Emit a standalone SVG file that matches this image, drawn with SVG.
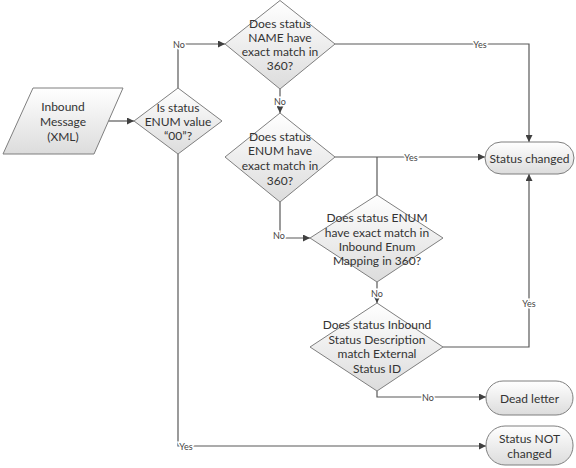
<svg xmlns="http://www.w3.org/2000/svg" width="576" height="468" viewBox="0 0 576 468">
<defs>
<linearGradient id="g" x1="0" y1="0" x2="0" y2="1">
<stop offset="0" stop-color="#ffffff"/>
<stop offset="1" stop-color="#dcdcdc"/>
</linearGradient>
<marker id="a" viewBox="0 0 10 10" refX="10" refY="5" markerWidth="7" markerHeight="7" markerUnits="userSpaceOnUse" orient="auto">
<path d="M0,0 L10,5 L0,10 z" fill="#404040"/>
</marker>
<style>
.s{fill:url(#g);stroke:#7f7f7f;stroke-width:1}
.t{font-family:Lato,"Liberation Sans",sans-serif;font-size:12px;fill:#333;text-anchor:middle;dominant-baseline:central}
.c{fill:none;stroke:#595959;stroke-width:1.2}
.ca{fill:none;stroke:#595959;stroke-width:1.2;marker-end:url(#a)}
.l{font-family:Lato,"Liberation Sans",sans-serif;font-size:9px;fill:#444;text-anchor:middle;dominant-baseline:central;stroke:#fff;stroke-width:3;paint-order:stroke}
</style>
</defs>
<rect width="576" height="468" fill="#fff"/>
<g id="connectors">
<path class="ca" d="M108,121 H134"/>
<path class="ca" d="M178,88 V44 H225"/>
<path class="ca" d="M335,44 H529 V142"/>
<path class="ca" d="M280,89 V113"/>
<path class="ca" d="M335,157 H485"/>
<path class="c" d="M377,195 V157"/>
<path class="ca" d="M280,202 V238 H310"/>
<path class="ca" d="M377,282 V303"/>
<path class="ca" d="M443,347 H529 V174"/>
<path class="ca" d="M377,391 V397 H486"/>
<path class="ca" d="M178,154 V446 H486"/>
<text class="l" x="179" y="44">No</text>
<text class="l" x="480" y="44">Yes</text>
<text class="l" x="280" y="101">No</text>
<text class="l" x="411" y="157">Yes</text>
<text class="l" x="279" y="235">No</text>
<text class="l" x="377" y="293">No</text>
<text class="l" x="529" y="303">Yes</text>
<text class="l" x="428" y="397">No</text>
<text class="l" x="186" y="446">Yes</text>
</g>
<g id="inbound">
<polygon class="s" points="33,88 123,88 94,154 3,154"/>
<text class="t" x="63" y="106">Inbound</text>
<text class="t" x="63" y="121">Message</text>
<text class="t" x="63" y="136">(XML)</text>
</g>
<g id="d1">
<polygon class="s" points="134,121 178,88 222,121 178,154"/>
<text class="t" x="178" y="107">Is status</text>
<text class="t" x="178" y="121">ENUM value</text>
<text class="t" x="178" y="135">“00”?</text>
</g>
<g id="d2">
<polygon class="s" points="225,44 280,0.5 335,44 280,89"/>
<text class="t" x="280" y="23">Does status</text>
<text class="t" x="280" y="37">NAME have</text>
<text class="t" x="280" y="51">exact match in</text>
<text class="t" x="280" y="65">360?</text>
</g>
<g id="d3">
<polygon class="s" points="225,157 280,113 335,157 280,202"/>
<text class="t" x="280" y="136">Does status</text>
<text class="t" x="280" y="150">ENUM have</text>
<text class="t" x="280" y="165">exact match in</text>
<text class="t" x="280" y="180">360?</text>
</g>
<g id="d4">
<polygon class="s" points="310,238 377,195 443,238 377,282"/>
<text class="t" x="377" y="217">Does status ENUM</text>
<text class="t" x="377" y="232">have exact match in</text>
<text class="t" x="377" y="246">Inbound Enum</text>
<text class="t" x="377" y="260">Mapping in 360?</text>
</g>
<g id="d5">
<polygon class="s" points="310,347 377,303 443,347 377,391"/>
<text class="t" x="377" y="324">Does status Inbound</text>
<text class="t" x="377" y="339">Status Description</text>
<text class="t" x="377" y="353">match External</text>
<text class="t" x="377" y="368">Status ID</text>
</g>
<g id="changed">
<rect class="s" x="485" y="142" width="89" height="32" rx="16"/>
<text class="t" x="529.5" y="158">Status changed</text>
</g>
<g id="dead">
<rect class="s" x="486" y="381" width="87" height="34" rx="17"/>
<text class="t" x="529.5" y="398">Dead letter</text>
</g>
<g id="notchanged">
<rect class="s" x="486" y="426" width="87" height="39" rx="19"/>
<text class="t" x="529.5" y="438">Status NOT</text>
<text class="t" x="529.5" y="453">changed</text>
</g>
</svg>
